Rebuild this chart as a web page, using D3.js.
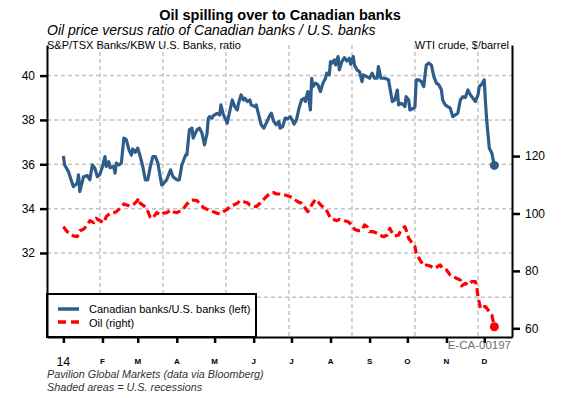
<!DOCTYPE html>
<html><head><meta charset="utf-8">
<script src="https://cdn.jsdelivr.net/npm/d3@7"></script>
<style>
body{margin:0;background:#fff;}
svg{display:block;font-family:"Liberation Sans",Arial,sans-serif;}
</style></head>
<body><svg id="c" width="569" height="398"></svg>
<script>
// ---- data ----
const monthLabels = ["14","F","M","A","M","J","J","A","S","O","N","D"];
const leftTicks = [32,34,36,38,40];
const rightTicks = [60,80,100,120];
const leftGrid = [30,32,34,36,38,40];
// day-of-2014 offsets
const blueDays = [0,1,4,7,8,11,12,13,16,19,
21,23,25,27,29,31,33,34,36,37,
40,41,42,44,46,48,50,52,54,55,
57,59,61,63,65,67,69,71,73,75,
78,79,82,85,87,90,92,94,97,98,
100,102,103,106,108,110,112,114,115,116,
118,119,122,124,125,127,129,130,132,134,
136,138,139,141,143,144,146,148,149,152,
153,155,157,159,161,164,165,167,169,171,
172,174,176,178,180,182,183,185,187,189,
191,192,194,196,197,198,200,202,204,206,
208,209,211,212,213,215,216,218,219,221,
223,225,227,228,230,231,233,235,237,238,
241,243,245,247,249,250,252,255,258,261,
263,265,266,268,270,271,272,274,275,278,
279,280,282,284,286,287,288,290,292,294,
296,298,300,301,303,305,307,309,311,313,
315,317,319,321,323,325,327,329,330,332,
334,335,336,338,340,342];
const blueVals = [36.38,35.97,35.67,35.15,34.99,35.15,35.52,34.77,35.44,35.49,
35.30,35.97,35.82,35.44,35.55,35.90,36.35,35.90,36.12,35.85,
35.90,35.60,36.05,35.97,36.05,37.18,37.10,36.65,36.42,36.69,
36.54,36.73,36.35,35.90,35.30,35.30,35.90,36.35,36.35,36.05,
35.07,35.10,35.30,35.75,35.44,35.30,35.30,35.97,36.42,36.42,
37.55,37.63,37.18,37.55,37.63,37.40,36.87,37.40,38.08,38.15,
38.08,38.20,38.30,38.23,38.68,38.23,38.00,37.85,38.38,38.90,
38.60,38.45,38.75,39.13,38.90,38.98,38.83,38.90,38.68,38.60,
38.68,38.23,37.78,37.63,37.85,38.23,38.30,37.93,37.78,37.93,
37.63,37.70,38.08,38.05,38.15,37.96,37.81,38.00,38.53,38.90,
38.98,38.83,39.28,38.45,39.88,39.50,39.66,39.58,39.28,39.66,
39.88,40.11,40.03,40.63,40.56,40.71,40.48,40.86,40.26,40.63,
40.81,40.66,40.78,40.51,40.86,40.48,40.26,40.18,39.73,40.03,
39.95,39.88,40.11,39.88,39.88,40.41,39.88,39.88,39.81,38.83,
38.90,39.35,38.68,38.75,38.68,38.60,39.05,38.90,38.45,38.53,
38.60,39.81,39.81,39.73,39.50,40.03,40.48,40.56,40.48,39.95,
39.66,39.58,39.35,38.90,38.68,38.60,38.53,38.15,38.23,38.30,
38.90,39.05,39.01,39.35,39.13,38.98,38.83,39.13,39.50,39.61,
39.81,38.75,37.93,36.73,36.50,35.95];
const redDays = [0,3,5,8,11,13,16,19,21,24,26,29,32,34,37,40,42,45,48,50,
53,56,58,60,61,63,66,69,71,74,77,79,82,85,87,90,93,95,98,101,
103,106,108,111,114,116,119,122,124,127,130,132,135,138,140,143,146,148,151,153,
156,159,161,164,167,169,172,176,180,184,186,189,192,194,197,200,202,205,208,210,
212,214,217,219,221,223,226,229,231,234,237,239,241,243,246,249,251,254,257,259,
261,263,266,268,271,272,274,276,279,280,283,286,288,291,294,296,299,301,304,307,
309,312,315,316,319,321,324,327,328,329,331,332,335,337,340,342];
const redVals = [95.4,93.66,93.10,92.16,91.92,94.01,94.49,95.99,97.49,96.79,
98.33,97.49,96.79,98.89,100.07,100.28,100.63,101.81,103.31,102.96,
102.61,103.31,104.11,105.30,103.55,102.96,101.81,98.68,98.33,100.28,
99.48,100.07,100.28,101.22,100.63,100.28,100.98,101.46,103.31,104.46,
104.70,104.46,103.55,102.16,101.46,101.22,100.63,100.07,99.83,100.63,
101.46,102.37,102.96,103.55,104.46,104.11,103.76,102.96,102.61,102.37,
103.55,104.95,105.85,107.04,107.25,106.79,106.79,106.45,105.85,104.70,
104.11,103.55,101.81,100.63,102.96,104.95,104.11,102.61,101.81,100.07,
98.33,97.98,97.49,97.98,97.74,97.49,97.14,95.99,94.49,94.01,
94.25,95.99,95.40,93.66,93.66,93.10,92.51,91.92,92.51,94.84,
93.10,92.16,92.51,94.25,95.40,94.25,91.36,90.17,88.43,86.13,
83.80,81.71,82.06,81.71,80.91,81.25,82.06,80.91,80.31,78.57,
77.98,77.42,76.83,74.74,75.68,75.09,76.24,76.24,74.74,71.01,
66.97,67.53,67.53,66.38,64.63,60.56];

// ---- setup ----
const BLUE = "#2e5d8a", RED = "#ff0000", GRID = "#c4c4c4";
const day0 = Date.UTC(2014,0,1);
const toDate = d => new Date(day0 + d*864e5);
const blue = blueDays.map((d,i)=>({date:toDate(d), v:blueVals[i]}));
const red = redDays.map((d,i)=>({date:toDate(d), v:redVals[i]}));

const L=47, R=512, T=45, B=337;
const x = d3.scaleUtc().domain([new Date(Date.UTC(2013,11,19)), new Date(Date.UTC(2014,11,23))]).range([L,R]);
const yL = d3.scaleLinear().domain([28.21, 41.38]).range([B,T]);
const yR = d3.scaleLinear().domain([56.97, 158.7]).range([B,T]);

const svg = d3.select("#c");

// titles
svg.append("text").attr("x",280).attr("y",20).attr("text-anchor","middle")
  .attr("font-size",14.5).attr("font-weight","bold").text("Oil spilling over to Canadian banks");
svg.append("text").attr("x",47).attr("y",35).attr("font-size",14).attr("font-style","italic")
  .text("Oil price versus ratio of Canadian banks / U.S. banks");
svg.append("text").attr("x",47).attr("y",49).attr("font-size",11).text("S&P/TSX Banks/KBW U.S. Banks, ratio");
svg.append("text").attr("x",509).attr("y",49).attr("font-size",11).attr("text-anchor","end").text("WTI crude, $/barrel");

// grid
const g = svg.append("g");
g.selectAll(".hg").data(leftGrid).join("line")
  .attr("x1",L).attr("x2",R).attr("y1",d=>yL(d)).attr("y2",d=>yL(d))
  .attr("stroke",GRID).attr("stroke-width",1.5).attr("stroke-dasharray","4,3");
const gridDays = d3.range(29, 340, 50);
g.selectAll(".vg").data(gridDays).join("line")
  .attr("x1",d=>x(toDate(d))).attr("x2",d=>x(toDate(d))).attr("y1",T).attr("y2",B)
  .attr("stroke",GRID).attr("stroke-width",1.5).attr("stroke-dasharray","4,3");

// lines
svg.append("path").datum(red)
  .attr("d", d3.line().x(d=>x(d.date)).y(d=>yR(d.v)))
  .attr("fill","none").attr("stroke",RED).attr("stroke-width",3.2)
  .attr("stroke-dasharray","8,4").attr("stroke-linejoin","round");
svg.append("path").datum(blue)
  .attr("d", d3.line().x(d=>x(d.date)).y(d=>yL(d.v)))
  .attr("fill","none").attr("stroke",BLUE).attr("stroke-width",3.2).attr("stroke-linejoin","round");
const lb = blue[blue.length-1], lr = red[red.length-1];
svg.append("circle").attr("cx",x(lb.date)).attr("cy",yL(lb.v)).attr("r",4.5).attr("fill",BLUE);
svg.append("circle").attr("cx",x(lr.date)).attr("cy",yR(lr.v)).attr("r",4.5).attr("fill",RED);

// legend
const lg = svg.append("g");
lg.append("rect").attr("x",L).attr("y",294).attr("width",209).attr("height",B-294)
  .attr("fill","#fff").attr("stroke","#000").attr("stroke-width",2);
lg.append("line").attr("x1",58).attr("x2",79).attr("y1",309).attr("y2",309).attr("stroke",BLUE).attr("stroke-width",3.5);
lg.append("line").attr("x1",58).attr("x2",79).attr("y1",322).attr("y2",322).attr("stroke",RED).attr("stroke-width",3.5).attr("stroke-dasharray","8,5");
lg.append("text").attr("x",89).attr("y",313).attr("font-size",11).text("Canadian banks/U.S. banks (left)");
lg.append("text").attr("x",89).attr("y",326.5).attr("font-size",11).text("Oil (right)");

// axes
function styleAxis(sel){
  sel.select(".domain").attr("stroke","#000").attr("stroke-width",2);
  sel.selectAll(".tick line").attr("stroke","#000").attr("stroke-width",2.5);
  sel.selectAll("text").attr("fill","#000").attr("font-family","'Liberation Sans',Arial,sans-serif");
}
svg.append("g").attr("transform",`translate(${L},0)`)
  .call(d3.axisLeft(yL).tickValues(leftTicks).tickSize(7).tickSizeOuter(0).tickPadding(5))
  .call(styleAxis).call(s=>s.selectAll("text").attr("font-size",12));
svg.append("g").attr("transform",`translate(${R},0)`)
  .call(d3.axisRight(yR).tickValues(rightTicks).tickSize(8).tickSizeOuter(0).tickPadding(5))
  .call(styleAxis).call(s=>s.selectAll("text").attr("font-size",12));
const months = d3.utcMonth.range(new Date(day0), new Date(Date.UTC(2014,11,2)));
svg.append("g").attr("transform",`translate(0,${B})`)
  .call(d3.axisBottom(x).tickValues(months).tickSize(6).tickSizeOuter(0).tickFormat(""))
  .call(styleAxis);
svg.append("g").selectAll("text").data(months).join("text")
  .attr("x",d=>x(d)).attr("y",(d,i)=> i===0 ? 365.5 : 363.5)
  .attr("text-anchor","middle")
  .attr("font-size",(d,i)=> i===0 ? 12.5 : 8)
  .attr("font-weight",(d,i)=> i===0 ? "normal" : "bold")
  .text((d,i)=>monthLabels[i]);

// footer
svg.append("text").attr("x",511).attr("y",348.5).attr("text-anchor","end")
  .attr("font-size",11.5).attr("fill","#6e6e6e").text("E-CA-00197");
svg.append("text").attr("x",47).attr("y",378).attr("font-size",10.8).attr("font-style","italic").attr("fill","#333")
  .text("Pavilion Global Markets (data via Bloomberg)");
svg.append("text").attr("x",47).attr("y",390.5).attr("font-size",10.8).attr("font-style","italic").attr("fill","#333")
  .text("Shaded areas = U.S. recessions");
</script></body></html>
